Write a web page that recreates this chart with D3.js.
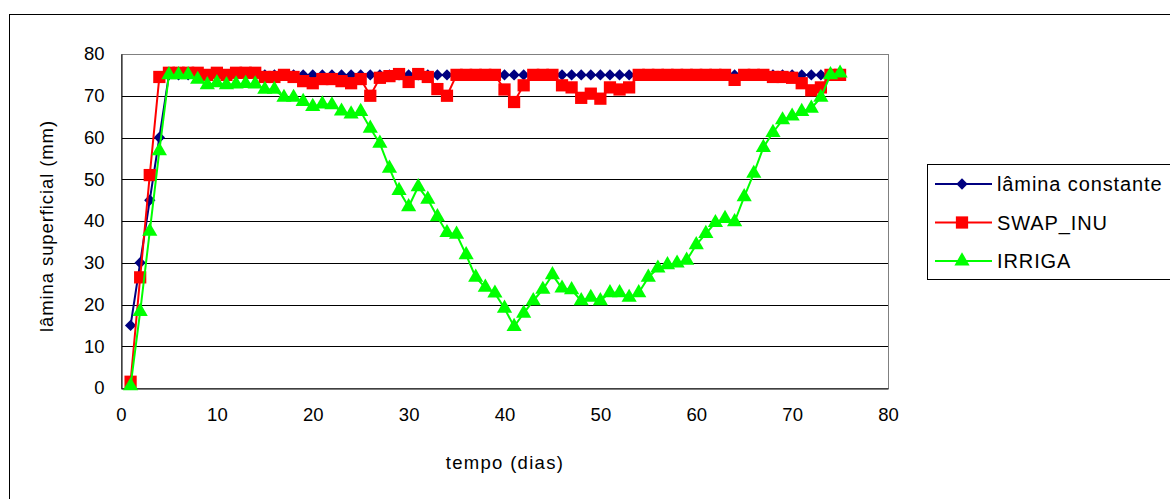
<!DOCTYPE html>
<html>
<head>
<meta charset="utf-8">
<script src="https://cdn.jsdelivr.net/npm/d3@7"></script>
<style>
  html, body { margin: 0; padding: 0; background: #fff; }
  svg { display: block; font-family: Arial, "Liberation Sans", sans-serif; }
</style>
</head>
<body>
<svg id="chart" width="1170" height="499"></svg>
<script>
// Days of simulation
const dias = d3.range(1, 76);

// Surface water depth (mm) per day for each model
const laminaConstante = [
  15, 30, 45, 60, 75, 75, 75, 75, 75, 75,
  75, 75, 75, 75, 75, 75, 75, 75, 75, 75,
  75, 75, 75, 75, 75, 75, 75, 75, 75, 75,
  75, 75, 75, 75, 75, 75, 75, 75, 75, 75,
  75, 75, 75, 75, 75, 75, 75, 75, 75, 75,
  75, 75, 75, 75, 75, 75, 75, 75, 75, 75,
  75, 75, 75, 75, 75, 75, 75, 75, 75, 75,
  75, 75, 75, 75, 75
];

const swapInu = [
  1.5, 26.5, 51, 74.5, 75.5, 75.5, 75.5, 75.5, 75, 75.5,
  75, 75.5, 75.5, 75.5, 74.5, 74.5, 75, 74.5, 73.5, 73,
  74, 74, 73.5, 73, 74, 70, 74.3, 74.7, 75.2, 73.3,
  75.2, 74.5, 71.6, 70, 75, 75, 75, 75, 75, 71.5,
  68.5, 72.5, 75, 75, 75, 72.5, 72, 69.5, 70.5, 69.3,
  72, 71.5, 72, 75, 75, 75, 75, 75, 75, 75,
  75, 75, 75, 73.8, 75, 75, 75, 74.5, 74.5, 74.3,
  73, 71.3, 72, 75, 75
];

const irriga = [
  0.5, 18.3, 37.5, 56.8, 75, 75, 75, 73.9, 72.6, 73.1,
  72.6, 72.8, 72.9, 72.8, 71.5, 71.5, 69.6, 69.6, 68.6, 67.4,
  68, 67.8, 66.3, 65.6, 66.2, 62.2, 58.6, 52.6, 47.3, 43.4,
  48.2, 45.2, 41, 37.2, 36.8, 31.9, 26.5, 24.1, 22.7, 19.1,
  14.7, 17.9, 20.9, 23.6, 27.1, 23.9, 23.5, 20.9, 21.7, 20.9,
  22.8, 22.8, 21.7, 22.8, 26.5, 28.7, 29.5, 29.9, 30.6, 34.3,
  37, 39.6, 40.6, 39.8, 45.8, 51.4, 57.6, 61.2, 64.2, 65.1,
  66.2, 67, 69.6, 75, 75.4
];

const seriesNames = ["lâmina constante", "SWAP_INU", "IRRIGA"];
const xTicks = [0, 10, 20, 30, 40, 50, 60, 70, 80];
const yTicks = [0, 10, 20, 30, 40, 50, 60, 70, 80];

// Diamond drawn as a square turned 45 degrees
const series = [
  { name: seriesNames[0], values: laminaConstante, color: "#000080", symbol: d3.symbolSquare, size: 64, rot: 45 },
  { name: seriesNames[1], values: swapInu, color: "#ff0000", symbol: d3.symbolSquare, size: 150, rot: 0 },
  { name: seriesNames[2], values: irriga, color: "#00ff00", symbol: d3.symbolTriangle, size: 100, rot: 0 }
];

const svg = d3.select("#chart");
const FONT = 'Arial, "Liberation Sans", sans-serif';

// Chart frame
svg.append("rect")
  .attr("x", 9.5).attr("y", 14.5)
  .attr("width", 1175).attr("height", 500)
  .attr("fill", "#fff").attr("stroke", "#000").attr("stroke-width", 1);

const plot = { left: 121, top: 54, right: 888, bottom: 388 };

const x = d3.scaleLinear().domain([0, 80]).range([plot.left, plot.right]);
const y = d3.scaleLinear().domain([0, 80]).range([plot.bottom, plot.top]);

// Horizontal gridlines
svg.append("g")
  .selectAll("line")
  .data(yTicks.filter(t => t > 0 && t < 80))
  .join("line")
  .attr("x1", plot.left).attr("x2", plot.right)
  .attr("y1", d => Math.round(y(d)) + 0.5).attr("y2", d => Math.round(y(d)) + 0.5)
  .attr("stroke", "#000").attr("stroke-width", 1);

// Plot area border
svg.append("rect")
  .attr("x", plot.left + 0.5).attr("y", plot.top + 0.5)
  .attr("width", plot.right - plot.left).attr("height", plot.bottom - plot.top)
  .attr("fill", "none").attr("stroke", "#808080").attr("stroke-width", 1);

// Axes
const yAxis = d3.axisLeft(y).tickValues(yTicks).tickSize(0).tickPadding(17);
const gy = svg.append("g").attr("transform", `translate(${plot.left + 0.5},0)`).call(yAxis);
gy.select(".domain").attr("stroke", "#000");
gy.selectAll("text").attr("font-size", 18.5).attr("fill", "#000").attr("font-family", FONT);

const xAxis = d3.axisBottom(x).tickValues(xTicks).tickSize(0).tickPadding(19);
const gx = svg.append("g").attr("transform", `translate(0,${plot.bottom + 0.5})`).call(xAxis);
gx.select(".domain").attr("stroke", "#000");
gx.selectAll("text").attr("font-size", 18.5).attr("fill", "#000").attr("font-family", FONT);

// Axis titles
svg.append("text")
  .attr("x", 505).attr("y", 469)
  .attr("text-anchor", "middle").attr("font-size", 18.5).attr("letter-spacing", 1.3)
  .text("tempo (dias)");

svg.append("text")
  .attr("transform", "translate(53,226) rotate(-90)")
  .attr("text-anchor", "middle").attr("font-size", 18.5).attr("letter-spacing", 0.9)
  .text("lâmina superficial (mm)");

// Series lines and markers
const line = d3.line().x((d, i) => x(dias[i])).y(d => y(d));

series.forEach(s => {
  const g = svg.append("g");
  g.append("path")
    .attr("d", line(s.values))
    .attr("fill", "none").attr("stroke", s.color).attr("stroke-width", 2);
  const sym = d3.symbol().type(s.symbol).size(s.size);
  g.selectAll("path.m")
    .data(s.values)
    .join("path")
    .attr("class", "m")
    .attr("d", sym)
    .attr("transform", (d, i) => `translate(${x(dias[i])},${y(d)}) rotate(${s.rot})`)
    .attr("fill", s.color);
});

// Legend
const leg = svg.append("g");
leg.append("rect")
  .attr("x", 927.5).attr("y", 164.5).attr("width", 260).attr("height", 115)
  .attr("fill", "#fff").attr("stroke", "#000").attr("stroke-width", 1);

series.forEach((s, i) => {
  const cy = 184 + i * 38.5;
  leg.append("line")
    .attr("x1", 935).attr("x2", 992).attr("y1", cy).attr("y2", cy)
    .attr("stroke", s.color).attr("stroke-width", 2);
  leg.append("path")
    .attr("d", d3.symbol().type(s.symbol).size(s.size)())
    .attr("transform", `translate(962,${cy}) rotate(${s.rot})`)
    .attr("fill", s.color);
  leg.append("text")
    .attr("x", 997).attr("y", cy).attr("dy", "0.36em")
    .attr("font-size", 20).attr("letter-spacing", 0.9)
    .text(s.name);
});
</script>
</body>
</html>
